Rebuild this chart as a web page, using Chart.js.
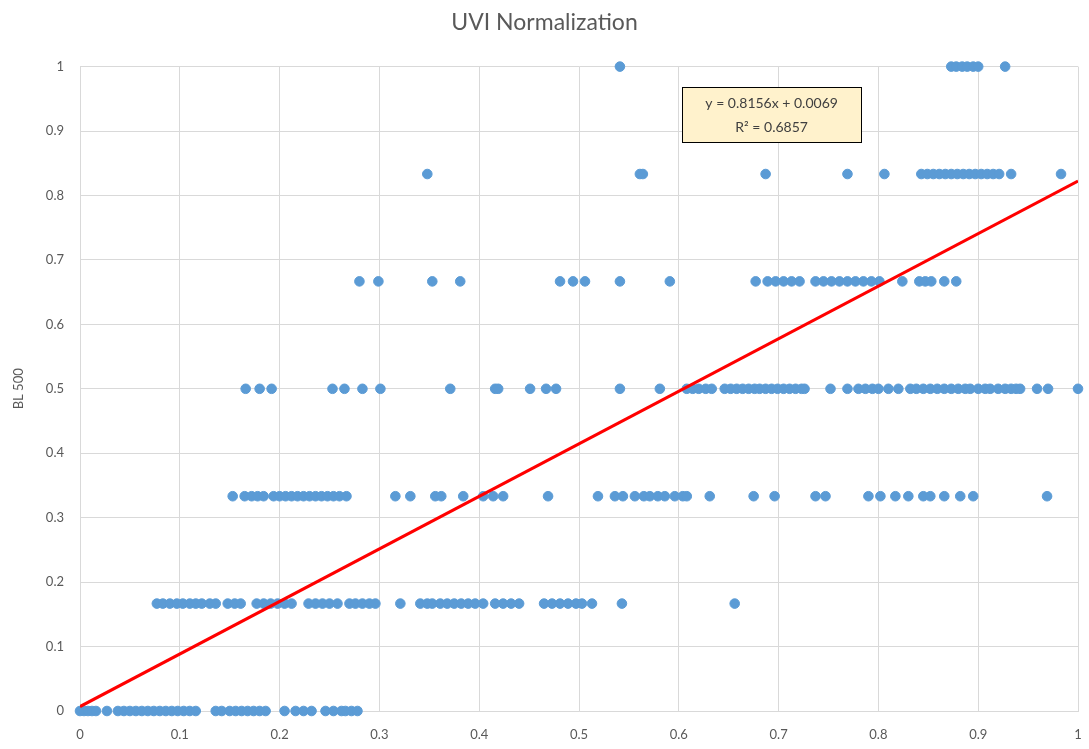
<!DOCTYPE html>
<html>
<head>
<meta charset="utf-8">
<script src="https://cdn.jsdelivr.net/npm/chart.js@4"></script>
<style>
  html, body { margin: 0; padding: 0; background: #fff; }
  #wrap { width: 1089px; height: 749px; position: relative; }
</style>
</head>
<body>
<div id="wrap"><canvas id="chart-uvi"></canvas></div>
<script>
// BL 500 levels and the UVI values observed at each level
const levelZero = [0.000, 0.004, 0.008, 0.012, 0.016, 0.027, 0.038, 0.044, 0.050, 0.056, 0.062, 0.068, 0.074,
  0.080, 0.086, 0.092, 0.098, 0.104, 0.110, 0.116, 0.136, 0.142, 0.150, 0.156, 0.162, 0.168, 0.174, 0.180,
  0.186, 0.205, 0.216, 0.224, 0.232, 0.246, 0.254, 0.262, 0.266, 0.272, 0.278];
const levelSixth = [0.077, 0.083, 0.090, 0.097, 0.103, 0.110, 0.116, 0.122, 0.130, 0.136, 0.148, 0.155, 0.161,
  0.177, 0.184, 0.191, 0.198, 0.205, 0.212, 0.229, 0.236, 0.243, 0.250, 0.258, 0.270, 0.276, 0.283, 0.290,
  0.296, 0.321, 0.341, 0.348, 0.353, 0.361, 0.368, 0.375, 0.382, 0.389, 0.396, 0.404, 0.416, 0.424, 0.432,
  0.440, 0.465, 0.473, 0.481, 0.489, 0.497, 0.503, 0.513, 0.543, 0.656];
const levelThird = [0.153, 0.165, 0.172, 0.178, 0.184, 0.194, 0.200, 0.206, 0.212, 0.218, 0.224, 0.230, 0.236,
  0.242, 0.248, 0.254, 0.260, 0.267, 0.316, 0.331, 0.356, 0.362, 0.384, 0.404, 0.414, 0.424, 0.469, 0.519,
  0.536, 0.544, 0.556, 0.565, 0.571, 0.579, 0.586, 0.596, 0.604, 0.608, 0.631, 0.675, 0.696, 0.737, 0.747,
  0.790, 0.802, 0.817, 0.830, 0.845, 0.852, 0.866, 0.882, 0.895, 0.969];
const levelHalf = [0.166, 0.180, 0.192, 0.253, 0.265, 0.283, 0.301, 0.371, 0.416, 0.419, 0.451, 0.467, 0.477,
  0.541, 0.581, 0.608, 0.614, 0.620, 0.627, 0.633, 0.646, 0.652, 0.658, 0.664, 0.670, 0.676, 0.681, 0.687,
  0.693, 0.699, 0.705, 0.711, 0.717, 0.723, 0.726, 0.752, 0.769, 0.780, 0.787, 0.794, 0.800, 0.810, 0.820,
  0.832, 0.838, 0.845, 0.852, 0.859, 0.866, 0.873, 0.880, 0.887, 0.892, 0.900, 0.907, 0.912, 0.920, 0.927,
  0.933, 0.938, 0.942, 0.959, 0.970, 1.000];
const levelTwoThirds = [0.280, 0.299, 0.353, 0.381, 0.481, 0.494, 0.506, 0.541, 0.591, 0.677, 0.689, 0.697,
  0.705, 0.713, 0.721, 0.737, 0.745, 0.753, 0.761, 0.769, 0.777, 0.785, 0.793, 0.801, 0.824, 0.841, 0.847,
  0.853, 0.866, 0.878];
const levelFiveSixths = [0.348, 0.561, 0.564, 0.687, 0.769, 0.806, 0.843, 0.849, 0.855, 0.861, 0.867, 0.873,
  0.879, 0.885, 0.891, 0.897, 0.903, 0.909, 0.915, 0.921, 0.933, 0.983];
const levelOne = [0.541, 0.873, 0.878, 0.884, 0.889, 0.895, 0.900, 0.927];

const levelValues = [0, 0.1667, 0.3333, 0.5, 0.6667, 0.8333, 1];
const levelSeries = [levelZero, levelSixth, levelThird, levelHalf, levelTwoThirds, levelFiveSixths, levelOne];

// linear trendline fitted in the spreadsheet
const trendSlope = 0.8156;
const trendIntercept = 0.0069;
const trendRSquared = 0.6857;
const trendRange = [0, 1];

// axis tick labels, 0 to 1 in tenths
const tickLabels = ['0', '0.1', '0.2', '0.3', '0.4', '0.5', '0.6', '0.7', '0.8', '0.9', '1'];

const points = [];
levelSeries.forEach((xs, i) => {
  for (const x of xs) points.push({x: x, y: levelValues[i]});
});
const trendPoints = trendRange.map(x => ({x: x, y: trendSlope * x + trendIntercept}));

const fontFamily = "Lato, 'Open Sans', 'Liberation Sans', sans-serif";
const textColor = '#595959';
const gridColor = '#d9d9d9';

function tickLabel(value, index) {
  return tickLabels[index];
}

// equation box, anchored in data coordinates
const trendLabel = {
  id: 'trendLabel',
  afterDatasetsDraw(chart) {
    const {ctx, scales} = chart;
    const cx = scales.x.getPixelForValue(0.693);
    const cy = scales.y.getPixelForValue(0.925);
    const w = 179, h = 55;
    ctx.save();
    ctx.fillStyle = '#fff2cc';
    ctx.strokeStyle = '#000';
    ctx.lineWidth = 1;
    ctx.fillRect(cx - w / 2, cy - h / 2, w, h);
    ctx.strokeRect(Math.round(cx - w / 2) + 0.5, Math.round(cy - h / 2) + 0.5, w, h);
    ctx.fillStyle = '#404040';
    ctx.font = `14px ${fontFamily}`;
    ctx.textAlign = 'center';
    ctx.textBaseline = 'middle';
    ctx.fillText(`y = ${trendSlope}x + ${trendIntercept}`, cx, cy - 11);
    ctx.fillText(`R² = ${trendRSquared}`, cx, cy + 13);
    ctx.restore();
  }
};

new Chart(document.getElementById('chart-uvi'), {
  data: {
    datasets: [
      {
        type: 'line',
        label: 'Linear (BL 500)',
        data: trendPoints,
        borderColor: '#ff0000',
        borderWidth: 3,
        pointRadius: 0,
        fill: false,
        order: 0,
      },
      {
        type: 'scatter',
        label: 'BL 500',
        data: points,
        backgroundColor: '#5b9bd5',
        borderColor: '#5b9bd5',
        borderWidth: 1,
        pointRadius: 4.8,
        clip: false,
        order: 1,
      },
    ]
  },
  options: {
    responsive: true,
    maintainAspectRatio: false,
    animation: false,
    layout: {padding: {top: 0, right: 0, bottom: 0, left: 0}},
    plugins: {
      legend: {display: false},
      tooltip: {enabled: false},
      title: {
        display: true,
        text: 'UVI Normalization',
        color: textColor,
        font: {family: fontFamily, size: 23, weight: 'normal'},
        padding: {top: 9, bottom: 30},
      },
    },
    scales: {
      x: {
        type: 'linear',
        min: 0,
        max: 1,
        afterFit: s => {
          s.height = 38;
          s.paddingLeft = 0;
          s.paddingRight = 11;
        },
        ticks: {stepSize: 0.1, color: textColor, padding: 16, font: {family: fontFamily, size: 13}, callback: tickLabel},
        grid: {color: gridColor, drawTicks: false},
        border: {color: gridColor},
      },
      y: {
        type: 'linear',
        min: 0,
        max: 1,
        afterFit: s => { s.width = 80; },
        ticks: {stepSize: 0.1, color: textColor, padding: 16, font: {family: fontFamily, size: 13}, callback: tickLabel},
        grid: {color: gridColor, drawTicks: false},
        border: {color: gridColor},
        title: {
          display: true,
          text: 'BL 500',
          color: textColor,
          font: {family: fontFamily, size: 13},
          padding: {top: 11, bottom: 0},
        },
      },
    },
  },
  plugins: [trendLabel],
});
</script>
</body>
</html>
